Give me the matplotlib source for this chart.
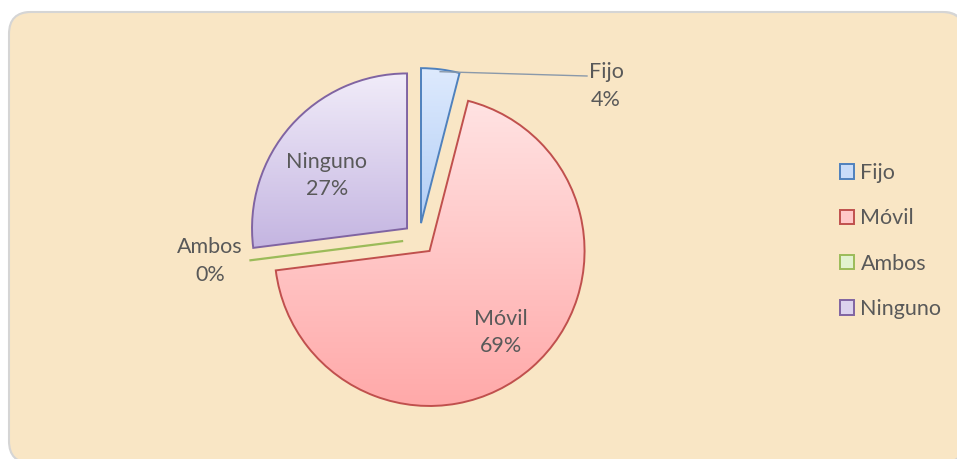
import numpy as np
import matplotlib
matplotlib.use('Agg')
import matplotlib.pyplot as plt
from matplotlib.patches import FancyBboxPatch, Patch
from matplotlib.colors import LinearSegmentedColormap
from matplotlib.transforms import IdentityTransform

# ---------------- data ----------------
categories = ['Fijo', 'Móvil', 'Ambos', 'Ninguno']
values = [4, 69, 0, 27]
pct_labels = ['4%', '69%', '0%', '27%']

# ---------------- style ----------------
edge_colors = ['#4F81BD', '#C0504D', '#9BBB59', '#8064A2']
top_colors = ['#DEEAFD', '#FFE3E3', '#EAF5DC', '#F1ECF9']
bottom_colors = ['#B2CEF6', '#FFA9A9', '#C9E4A8', '#C4B5E1']
legend_fill = ['#C9DCF9', '#FFC8C8', '#E2F2CF', '#DCD3EE']
text_color = '#595959'
FONT = ['Lato', 'DejaVu Sans']
FS = 15.5
LS = 1.45

W, H = 957, 459
R_PX = 155.0          # pie radius in pixels
CX, CY = 419.0, 239.0  # pie centre in pixels (from top-left)

plt.rcParams['font.family'] = FONT

fig = plt.figure(figsize=(W / 100, H / 100), dpi=100)
fig.patch.set_facecolor('white')

# rounded chart-area background (pixel coordinates)
shadow = FancyBboxPatch((10, -6), 955, 454, boxstyle='round,pad=0,rounding_size=22',
                        transform=IdentityTransform(), facecolor='#DADADA',
                        edgecolor='none', zorder=-2)
bg = FancyBboxPatch((9, -4), 955, 451, boxstyle='round,pad=0,rounding_size=22',
                    transform=IdentityTransform(), facecolor='#F9E6C5',
                    edgecolor='#D5D5D5', linewidth=1.5, zorder=-1)
fig.add_artist(shadow)
fig.add_artist(bg)

ax = fig.add_axes([0, 0, 1, 1])
ax.set_zorder(1)
ax.patch.set_alpha(0)

wedges, _ = ax.pie(values, startangle=90, counterclock=False,
                   explode=[0.103] * len(values), radius=1.0,
                   wedgeprops=dict(linewidth=1.4))

grad = np.linspace(0, 1, 256).reshape(-1, 1)
for i, w in enumerate(wedges):
    w.set_edgecolor(edge_colors[i])
    w.set_zorder(2)
    if values[i] > 0:
        ext = w.get_path().get_extents()
        cmap = LinearSegmentedColormap.from_list('g%d' % i, [top_colors[i], bottom_colors[i]])
        im = ax.imshow(grad, cmap=cmap, extent=[ext.x0, ext.x1, ext.y0, ext.y1],
                       origin='upper', aspect='auto', zorder=1.5, interpolation='bilinear')
        im.set_clip_path(w)
        w.set_facecolor('none')
    else:
        w.set_facecolor('none')
        w.set_linewidth(1.6)

ax.set_xlim(-CX / R_PX, (W - CX) / R_PX)
ax.set_ylim(-(H - CY) / R_PX, CY / R_PX)
ax.set_aspect('auto')
ax.set_axis_off()

# ---------------- data labels ----------------
def bis(w):
    return np.deg2rad((w.theta1 + w.theta2) / 2)

# inside labels (distance from wedge centre, angle shift in deg)
inside = {1: (0.70, 0.0), 3: (0.62, 8.0)}
for i, (d, sh) in inside.items():
    w = wedges[i]
    a = bis(w) + np.deg2rad(sh)
    x = w.center[0] + d * np.cos(a)
    y = w.center[1] + d * np.sin(a)
    ax.text(x, y, f'{categories[i]}\n{pct_labels[i]}', ha='center', va='center',
            color=text_color, fontsize=FS, linespacing=LS, zorder=5)

# outside label for Fijo with leader line
wf = wedges[0]
a = bis(wf)
p0 = (wf.center[0] + 0.985 * np.cos(a), wf.center[1] + 0.985 * np.sin(a))
p1 = ((587 - CX) / R_PX, (CY - 76) / R_PX)
ax.plot([p0[0], p1[0]], [p0[1], p1[1]], color='#8A99AA', lw=1.0, zorder=3)
ax.text((606 - CX) / R_PX, (CY - 86) / R_PX, f'{categories[0]}\n{pct_labels[0]}',
        ha='center', va='center', color=text_color, fontsize=FS, linespacing=LS, zorder=5)

# outside label for Ambos
ax.text((210 - CX) / R_PX, (CY - 261) / R_PX, f'{categories[2]}\n{pct_labels[2]}',
        ha='center', va='center', color=text_color, fontsize=FS, linespacing=LS, zorder=5)

# ---------------- legend ----------------
handles = [Patch(facecolor=legend_fill[i], edgecolor=edge_colors[i], linewidth=1.4)
           for i in range(len(categories))]
leg = fig.legend(handles, categories, loc='center left',
                 bbox_to_anchor=(840 / W, 1 - 241 / H), bbox_transform=fig.transFigure,
                 frameon=False, fontsize=FS, handlelength=0.65, handleheight=0.65,
                 handletextpad=0.3, labelspacing=1.18, borderpad=0, borderaxespad=0)
leg.set_zorder(6)
for t in leg.get_texts():
    t.set_color(text_color)

fig.savefig('out.png', dpi=100, facecolor='white')
